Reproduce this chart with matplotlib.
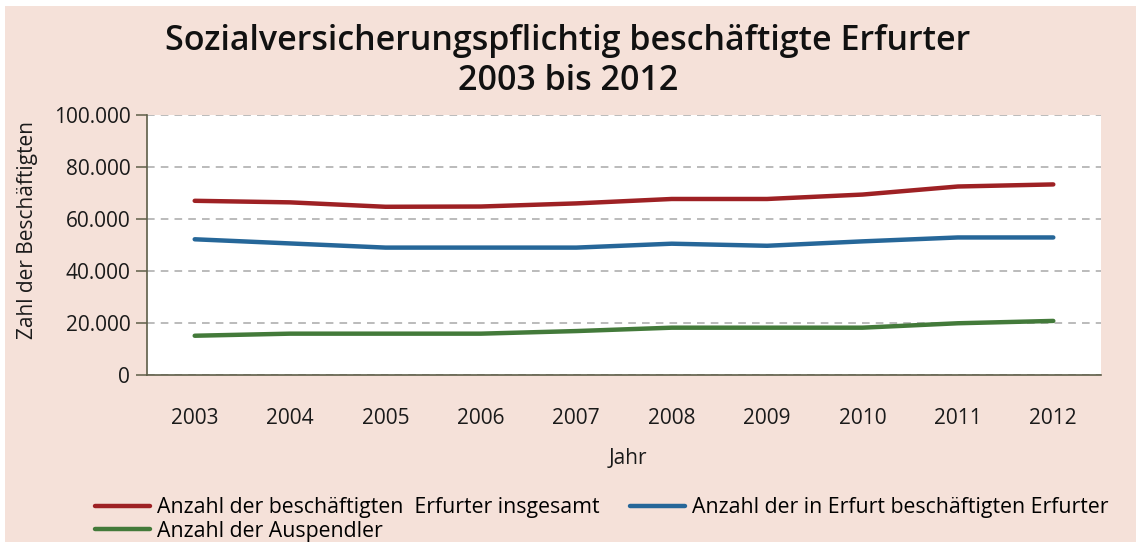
import matplotlib
matplotlib.use("Agg")
import matplotlib.pyplot as plt
from matplotlib.ticker import FuncFormatter
from matplotlib import font_manager

years = ["2003", "2004", "2005", "2006", "2007", "2008", "2009", "2010", "2011", "2012"]
insgesamt = [67000, 66400, 64700, 64800, 66000, 67700, 67700, 69400, 72500, 73300]
in_erfurt = [52200, 50600, 49000, 49000, 49000, 50500, 49700, 51400, 52900, 52900]
auspendler = [15100, 15900, 15900, 15900, 16900, 18200, 18200, 18200, 19900, 20800]

labels = ["Anzahl der beschäftigten  Erfurter insgesamt",
          "Anzahl der in Erfurt beschäftigten Erfurter",
          "Anzahl der Auspendler"]
title = "Sozialversicherungspflichtig beschäftigte Erfurter\n2003 bis 2012"

avail = {f.name for f in font_manager.fontManager.ttflist}
fam = [f for f in ["Liberation Sans Narrow", "DejaVu Sans Condensed", "Open Sans", "DejaVu Sans"] if f in avail]
plt.rcParams['font.family'] = fam

bg = "#F5E1D9"
fig = plt.figure(figsize=(11.36, 5.42), dpi=100, facecolor="white")
fig.patches.append(plt.Rectangle((5/1136, 0), 1 - 5/1136, 1 - 6/542,
                                 transform=fig.transFigure, facecolor=bg,
                                 edgecolor="none", zorder=-10))

ax = fig.add_axes([147/1136, 1 - 375/542, (1101 - 147)/1136, (375 - 115)/542])
ax.set_facecolor("white")
x = range(len(years))
ax.plot(x, insgesamt, color="#9E2124", lw=3.2, label=labels[0], solid_capstyle="round")
ax.plot(x, in_erfurt, color="#266799", lw=3.2, label=labels[1], solid_capstyle="round")
ax.plot(x, auspendler, color="#437A3A", lw=3.2, label=labels[2], solid_capstyle="round")

ax.set_xlim(-0.5, len(years) - 0.5)
ax.set_ylim(0, 100000)
ax.set_yticks(range(0, 100001, 20000))
ax.yaxis.set_major_formatter(FuncFormatter(lambda v, p: f"{int(v):,}".replace(",", ".")))
ax.set_xticks(list(x))
ax.set_xticklabels(years)
ax.grid(axis="y", linestyle=(0, (5, 4)), color="#A8A8A8", lw=1.1)
ax.set_axisbelow(True)
for s in ["top", "right"]:
    ax.spines[s].set_visible(False)
for s in ["left", "bottom"]:
    ax.spines[s].set_color("#5E5E48")
    ax.spines[s].set_linewidth(1.2)
ax.tick_params(axis="y", length=8, width=1.1, color="#5E5E48", labelsize=15, pad=4, labelcolor="#1a1a1a")
ax.tick_params(axis="x", length=0, labelsize=15, pad=24, labelcolor="#1a1a1a")

fig.text(28/1136, 1 - 230/542, "Zahl der Beschäftigten", rotation=90, ha="center", va="center",
         fontsize=15, color="#1a1a1a")
fig.text(628/1136, 1 - 458/542, "Jahr", ha="center", va="center", fontsize=15, color="#1a1a1a")
fig.text(568/1136, 1 - 61/542, title, ha="center", va="center", fontsize=24.5,
         fontweight="semibold", linespacing=1.2, color="#111111")

h, l = ax.get_legend_handles_labels()
order = [0, 2, 1]
leg = fig.legend([h[i] for i in order], [l[i] for i in order], ncol=2, frameon=False,
                 loc="upper left", bbox_to_anchor=(95/1136, 1 - 497/542),
                 fontsize=15.3, handlelength=2.6, handletextpad=0.3, columnspacing=1.45,
                 labelspacing=0.12, borderpad=0, borderaxespad=0)

fig.savefig("out.png", dpi=100, facecolor="white")
